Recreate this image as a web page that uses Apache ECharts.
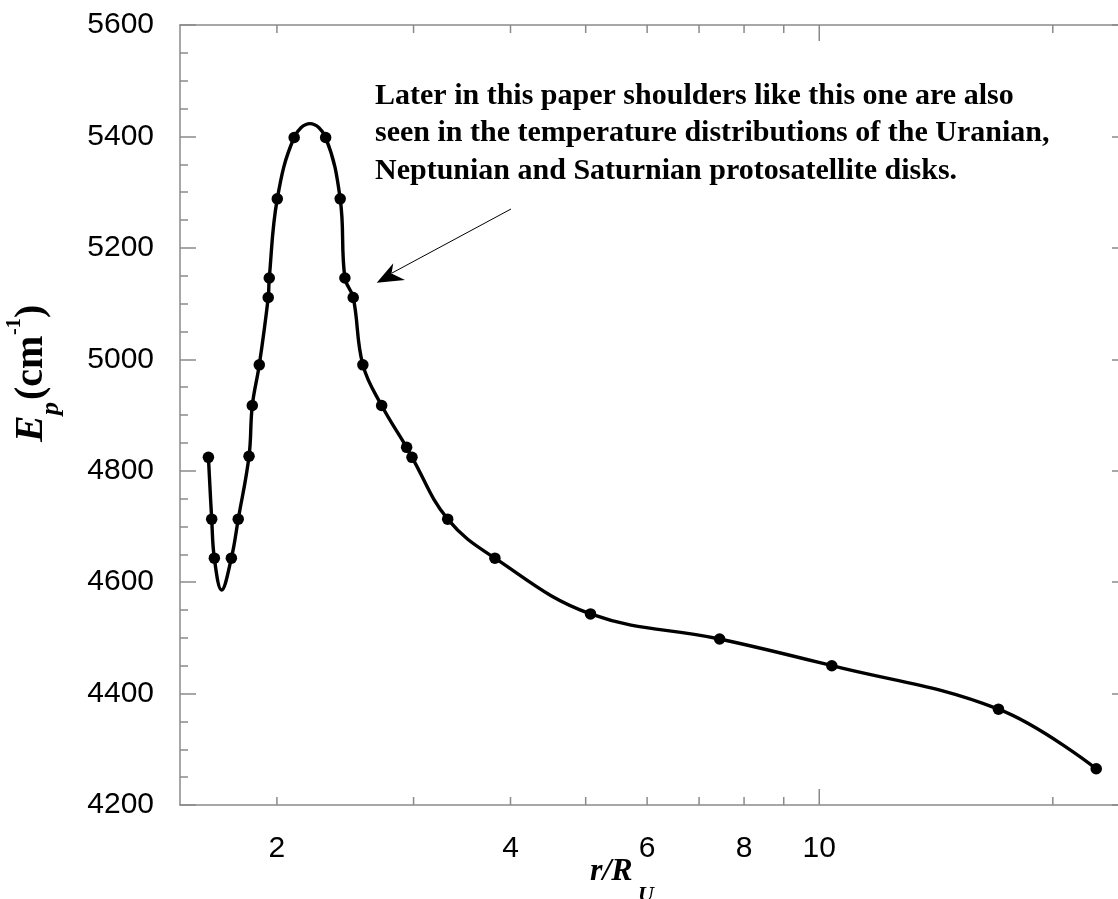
<!DOCTYPE html>
<html>
<head>
<meta charset="utf-8">
<script src="https://cdn.jsdelivr.net/npm/echarts@6/dist/echarts.min.js"></script>
<style>
  html, body { margin: 0; padding: 0; background: #ffffff; }
  #chart { width: 1118px; height: 899px; }
</style>
</head>
<body>
<div id="chart"></div>
<script>
// Computed points: radius in units of the planet radius, and E_p in cm^-1
const rPoints  = [1.632, 1.648, 1.661, 1.747, 1.783, 1.841, 1.859, 1.898, 1.949, 1.955, 2.002, 2.105,
                  2.311, 2.413, 2.447, 2.508, 2.581, 2.729, 2.939, 2.986, 3.32, 3.819, 5.072, 7.44,
                  10.38, 17.02, 22.75];
const epPoints = [4824, 4713, 4643, 4643, 4713, 4826, 4917, 4990, 5111, 5146, 5288, 5398,
                  5398, 5288, 5146, 5111, 4990, 4917, 4842, 4824, 4713, 4643, 4543, 4498,
                  4450, 4372, 4265];

// Fitted curve vertices: the points above plus the trough and the crest of the curve
const rCurve  = [1.632, 1.648, 1.661, 1.697, 1.747, 1.783, 1.841, 1.859, 1.898, 1.949, 1.955, 2.002,
                 2.105, 2.206, 2.311, 2.413, 2.447, 2.508, 2.581, 2.729, 2.939, 2.986, 3.32, 3.819,
                 5.072, 7.44, 10.38, 17.02, 22.75];
const epCurve = [4824, 4713, 4643, 4586, 4643, 4713, 4826, 4917, 4990, 5111, 5146, 5288,
                 5398, 5423, 5398, 5288, 5146, 5111, 4990, 4917, 4842, 4824, 4713, 4643,
                 4543, 4498, 4450, 4372, 4265];

// Axis ranges and ticks
const X_MIN = 1.5, X_MAX = 25;
const Y_MIN = 4200, Y_MAX = 5600, Y_STEP = 200;
const xTickValues = [2, 3, 4, 5, 6, 7, 8, 9, 10, 20];
const xMajorTickValues = [10];
const xLabeledTicks = [2, 4, 6, 8, 10];

const annotationLines = [
  'Later in this paper shoulders like this one are also',
  'seen in the temperature distributions of the Uranian,',
  'Neptunian and Saturnian protosatellite disks.'
];

const AXIS_COLOR = '#8a8a8a';
const SANS = '"Liberation Sans", Arial, sans-serif';
const SERIF = '"Liberation Serif", "Times New Roman", serif';

const chart = echarts.init(document.getElementById('chart'), null, { renderer: 'canvas' });

const curveData = rCurve.map((r, i) => [r, epCurve[i]]);
const pointData = rPoints.map((r, i) => [r, epPoints[i]]);

// Log-axis ticks (bottom and top) and the bottom tick labels
function renderXTicks(params, api) {
  const v = api.value(0);
  const bottom = api.coord([v, Y_MIN]);
  const top = api.coord([v, Y_MAX]);
  const len = xMajorTickValues.indexOf(v) >= 0 ? 16 : 8;
  const stroke = { stroke: AXIS_COLOR, lineWidth: 1.5 };
  const children = [
    { type: 'line', shape: { x1: bottom[0], y1: bottom[1], x2: bottom[0], y2: bottom[1] - len }, style: stroke },
    { type: 'line', shape: { x1: top[0], y1: top[1], x2: top[0], y2: top[1] + len }, style: stroke }
  ];
  if (xLabeledTicks.indexOf(v) >= 0) {
    children.push({
      type: 'text', x: bottom[0], y: bottom[1] + 44,
      style: {
        text: String(v), fill: '#000', fontSize: 30, fontFamily: SANS,
        align: 'center', verticalAlign: 'middle'
      }
    });
  }
  return { type: 'group', children: children };
}

function serifText(text, x, y, size, style) {
  return {
    type: 'text', x: x, y: y,
    style: {
      text: text, fill: '#000', fontSize: size, fontFamily: SERIF,
      fontWeight: 'bold', fontStyle: style || 'normal',
      align: 'left', verticalAlign: 'middle'
    }
  };
}

const option = {
  animation: false,
  backgroundColor: '#ffffff',
  textStyle: { fontFamily: SANS },
  grid: { left: 180, top: 25, width: 948, height: 780, containLabel: false, outerBoundsMode: 'none' },
  xAxis: [
    {
      type: 'log', logBase: 10, min: X_MIN, max: X_MAX, position: 'bottom',
      axisLine: { show: true, onZero: false, lineStyle: { color: AXIS_COLOR, width: 1.5 } },
      axisTick: { show: false }, axisLabel: { show: false },
      splitLine: { show: false }, minorTick: { show: false }, minorSplitLine: { show: false }
    },
    {
      type: 'log', logBase: 10, min: X_MIN, max: X_MAX, position: 'top',
      axisLine: { show: true, onZero: false, lineStyle: { color: AXIS_COLOR, width: 1.5 } },
      axisTick: { show: false }, axisLabel: { show: false },
      splitLine: { show: false }, minorTick: { show: false }, minorSplitLine: { show: false }
    }
  ],
  yAxis: [
    {
      type: 'value', min: Y_MIN, max: Y_MAX, interval: Y_STEP, position: 'left',
      axisLine: { show: true, onZero: false, lineStyle: { color: AXIS_COLOR, width: 1.5 } },
      axisTick: { show: true, inside: true, length: 16, lineStyle: { color: AXIS_COLOR, width: 1.5 } },
      minorTick: { show: true, splitNumber: 4, length: 8, lineStyle: { color: AXIS_COLOR, width: 1.5 } },
      axisLabel: {
        show: true, margin: 26, fontSize: 30, color: '#000', fontFamily: SANS,
        formatter: v => String(v)
      },
      splitLine: { show: false }, minorSplitLine: { show: false }
    },
    {
      type: 'value', min: Y_MIN, max: Y_MAX, interval: Y_STEP, position: 'right',
      axisLine: { show: true, onZero: false, lineStyle: { color: AXIS_COLOR, width: 1.5 } },
      axisTick: { show: true, inside: true, length: 16, lineStyle: { color: AXIS_COLOR, width: 1.5 } },
      minorTick: { show: true, splitNumber: 4, length: 8, lineStyle: { color: AXIS_COLOR, width: 1.5 } },
      axisLabel: { show: false },
      splitLine: { show: false }, minorSplitLine: { show: false }
    }
  ],
  series: [
    {
      name: 'curve', type: 'line', data: curveData, smooth: 0.4,
      showSymbol: false, symbol: 'none', clip: false,
      lineStyle: { color: '#000', width: 3.4 }, z: 3, silent: true
    },
    {
      name: 'points', type: 'scatter', data: pointData,
      symbol: 'circle', symbolSize: 11.5,
      itemStyle: { color: '#000', opacity: 1 }, z: 4, silent: true
    },
    {
      name: 'xticks', type: 'custom', data: xTickValues.map(v => [v, Y_MIN]),
      renderItem: renderXTicks, clip: false, silent: true, z: 5
    }
  ],
  graphic: [
    // Y axis title: E_p (cm^-1), reading bottom to top
    {
      type: 'group', x: 46, y: 442, rotation: Math.PI / 2, silent: true,
      children: [
        serifText('E', 0, -14, 40, 'italic'),
        serifText('p', 27, 5, 26, 'italic'),
        serifText('(cm', 42, -14, 40),
        serifText('-1', 107, -31, 20),
        serifText(')', 124, -14, 40)
      ]
    },
    // X axis title: r/R_U
    {
      type: 'group', silent: true,
      children: [
        serifText('r/R', 590, 872, 32, 'italic'),
        serifText('U', 638, 895, 22, 'italic')
      ]
    },
    // Note on the shoulder
    {
      type: 'group', silent: true,
      children: annotationLines.map((t, i) => serifText(t, 375, 96 + i * 37.5, 30))
    },
    {
      type: 'line', silent: true,
      shape: { x1: 511, y1: 209, x2: 392, y2: 273 },
      style: { stroke: '#000', lineWidth: 1 }
    },
    {
      type: 'polygon', silent: true,
      shape: { points: [[376.7, 282.7], [393.3, 263.3], [391.5, 273.5], [405, 280]] },
      style: { fill: '#000' }
    }
  ]
};

chart.setOption(option);
</script>
</body>
</html>
